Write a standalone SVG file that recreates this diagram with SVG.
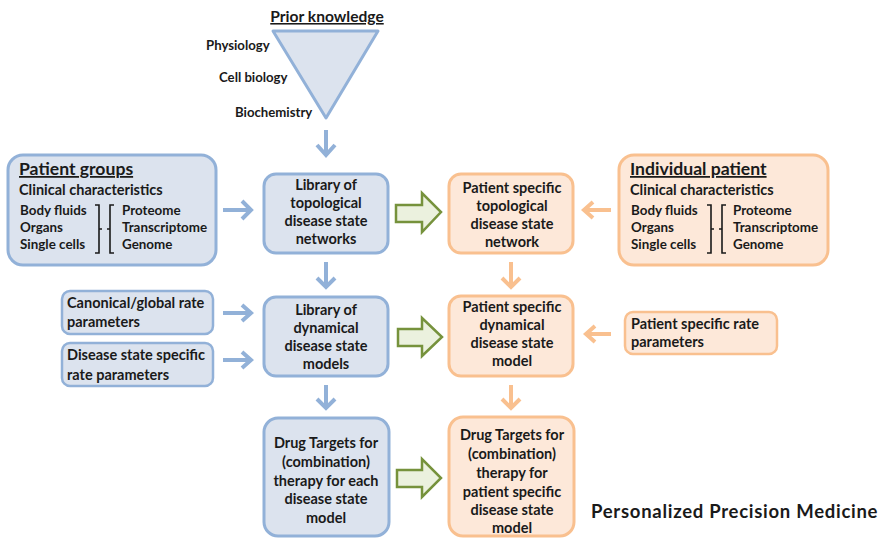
<svg xmlns="http://www.w3.org/2000/svg" width="882" height="541" viewBox="0 0 882 541">
<style>
text{font-family:Lato,"Liberation Sans",sans-serif;font-weight:bold;fill:#1a1a1a}
.t{font-size:14.5px}
.m{font-size:13.4px}
.c{text-anchor:middle}
.bb{fill:#dce3ee;stroke:#92b1d8;stroke-width:3}
.ob{fill:#fde8d9;stroke:#f9c08f;stroke-width:3}
.ba{fill:none;stroke:#92b1d8;stroke-width:4;stroke-linecap:butt}
.oa{fill:none;stroke:#f9c08f;stroke-width:4}
.ga{fill:#ebf1de;stroke:#76923c;stroke-width:2.5}
.br{fill:none;stroke:#1a1a1a;stroke-width:1.6}
.h{font-size:17.6px;text-decoration:underline}
.s{font-size:13.2px}
</style>
<rect width="882" height="541" fill="#fff"/>
<g id="prior">
<polygon points="273,31 378,31 326,118" fill="#dce3ee" stroke="#92b1d8" stroke-width="3" stroke-linejoin="round"/>
<text x="327" y="22" class="c" style="font-size:15.6px;text-decoration:underline">Prior knowledge</text>
<text x="206" y="50" class="s">Physiology</text>
<text x="219" y="82" class="s">Cell biology</text>
<text x="235" y="117" class="s">Biochemistry</text>
</g>
<g id="patient-groups">
<rect x="8" y="155" width="208" height="110" rx="15" class="bb"/>
<text x="19" y="175" class="h">Patient groups</text>
<text x="19" y="195" class="t">Clinical characteristics</text>
<text x="20" y="215" class="m">Body fluids</text>
<text x="20" y="232" class="m">Organs</text>
<text x="20" y="249" class="m">Single cells</text>
<text x="122" y="215" class="m">Proteome</text>
<text x="122" y="232" class="m">Transcriptome</text>
<text x="122" y="249" class="m">Genome</text>
<path class="br" d="M95,205 H99 V253 H95 M99,229 H102 M114,205 H110 V253 H114 M110,229 H107"/>
</g>
<g id="individual-patient">
<rect x="619" y="155" width="209" height="110" rx="15" class="ob"/>
<text x="630" y="175" class="h">Individual patient</text>
<text x="630" y="195" class="t">Clinical characteristics</text>
<text x="631" y="215" class="m">Body fluids</text>
<text x="631" y="232" class="m">Organs</text>
<text x="631" y="249" class="m">Single cells</text>
<text x="733" y="215" class="m">Proteome</text>
<text x="733" y="232" class="m">Transcriptome</text>
<text x="733" y="249" class="m">Genome</text>
<path class="br" d="M707,205 H711 V253 H707 M711,229 H714 M726,205 H722 V253 H726 M722,229 H719"/>
</g>
<g id="lib-topo">
<rect x="264" y="174" width="124" height="79" rx="12" class="bb"/>
<text x="326" y="190" class="t c">Library of</text>
<text x="326" y="208" class="t c">topological</text>
<text x="326" y="226" class="t c">disease state</text>
<text x="326" y="244" class="t c">networks</text>
</g>
<g id="ps-topo">
<rect x="449" y="174" width="124" height="79" rx="12" class="ob"/>
<text x="512" y="193" class="t c">Patient specific</text>
<text x="512" y="211" class="t c">topological</text>
<text x="512" y="229" class="t c">disease state</text>
<text x="512" y="247" class="t c">network</text>
</g>
<g id="canonical">
<rect x="62" y="291" width="151" height="43" rx="8" class="bb" style="stroke-width:2.5"/>
<text x="67" y="308" class="t">Canonical/global rate</text>
<text x="67" y="327" class="t">parameters</text>
</g>
<g id="disease-rate">
<rect x="62" y="343" width="151" height="43" rx="8" class="bb" style="stroke-width:2.5"/>
<text x="67" y="360" class="t">Disease state specific</text>
<text x="67" y="380" class="t">rate parameters</text>
</g>
<g id="lib-dyn">
<rect x="264" y="297" width="124" height="79" rx="12" class="bb"/>
<text x="326" y="315" class="t c">Library of</text>
<text x="326" y="333" class="t c">dynamical</text>
<text x="326" y="351" class="t c">disease state</text>
<text x="326" y="369" class="t c">models</text>
</g>
<g id="ps-dyn">
<rect x="449" y="296" width="124" height="80" rx="12" class="ob"/>
<text x="512" y="312" class="t c">Patient specific</text>
<text x="512" y="330" class="t c">dynamical</text>
<text x="512" y="348" class="t c">disease state</text>
<text x="512" y="366" class="t c">model</text>
</g>
<g id="ps-rate">
<rect x="625" y="312" width="152" height="42" rx="8" class="ob" style="stroke-width:2.5"/>
<text x="631" y="329" class="t">Patient specific rate</text>
<text x="631" y="347" class="t">parameters</text>
</g>
<g id="drug-lib">
<rect x="264" y="418" width="125" height="118" rx="14" class="bb"/>
<text x="326" y="448" class="t c">Drug Targets  for</text>
<text x="326" y="467" class="t c">(combination)</text>
<text x="326" y="486" class="t c">therapy for each</text>
<text x="326" y="504" class="t c">disease state</text>
<text x="326" y="523" class="t c">model</text>
</g>
<g id="drug-ps">
<rect x="449" y="417" width="125" height="119" rx="14" class="ob"/>
<text x="512" y="440" class="t c">Drug Targets  for</text>
<text x="512" y="459" class="t c">(combination)</text>
<text x="512" y="478" class="t c">therapy for</text>
<text x="512" y="497" class="t c">patient specific</text>
<text x="512" y="515" class="t c">disease state</text>
<text x="512" y="533" class="t c">model</text>
</g>
<text x="591" y="518" style="font-size:18.5px;letter-spacing:0.72px">Personalized Precision Medicine</text>
<g id="connectors">
<path class="ba" d="M326,130 V155 M317,145 L326,155 L335,145"/>
<path class="ba" d="M223,210 H251 M242,201 L251,210 L242,219"/>
<path class="ba" d="M223,313 H251 M242,305 L251,313 L242,321"/>
<path class="ba" d="M223,360 H251 M242,352 L251,360 L242,368"/>
<path class="ba" d="M326,262 V287 M317,278 L326,287 L335,278"/>
<path class="ba" d="M326,385 V408 M317,399 L326,408 L335,399"/>
<path class="oa" d="M611,210 H584 M593,202 L584,210 L593,218"/>
<path class="oa" d="M611,334 H586 M595,326 L586,334 L595,342"/>
<path class="oa" d="M511,262 V287 M502,278 L511,287 L520,278"/>
<path class="oa" d="M511,385 V408 M502,399 L511,408 L520,399"/>
<polygon class="ga" points="396,205 422,205 422,193 441,212 422,232 422,222 396,222"/>
<polygon class="ga" points="398,329 422,329 422,318 442,337 422,356 422,346 398,346"/>
<polygon class="ga" points="397,470 422,470 422,459 441,478 422,497 422,487 397,487"/>
</g>
</svg>
